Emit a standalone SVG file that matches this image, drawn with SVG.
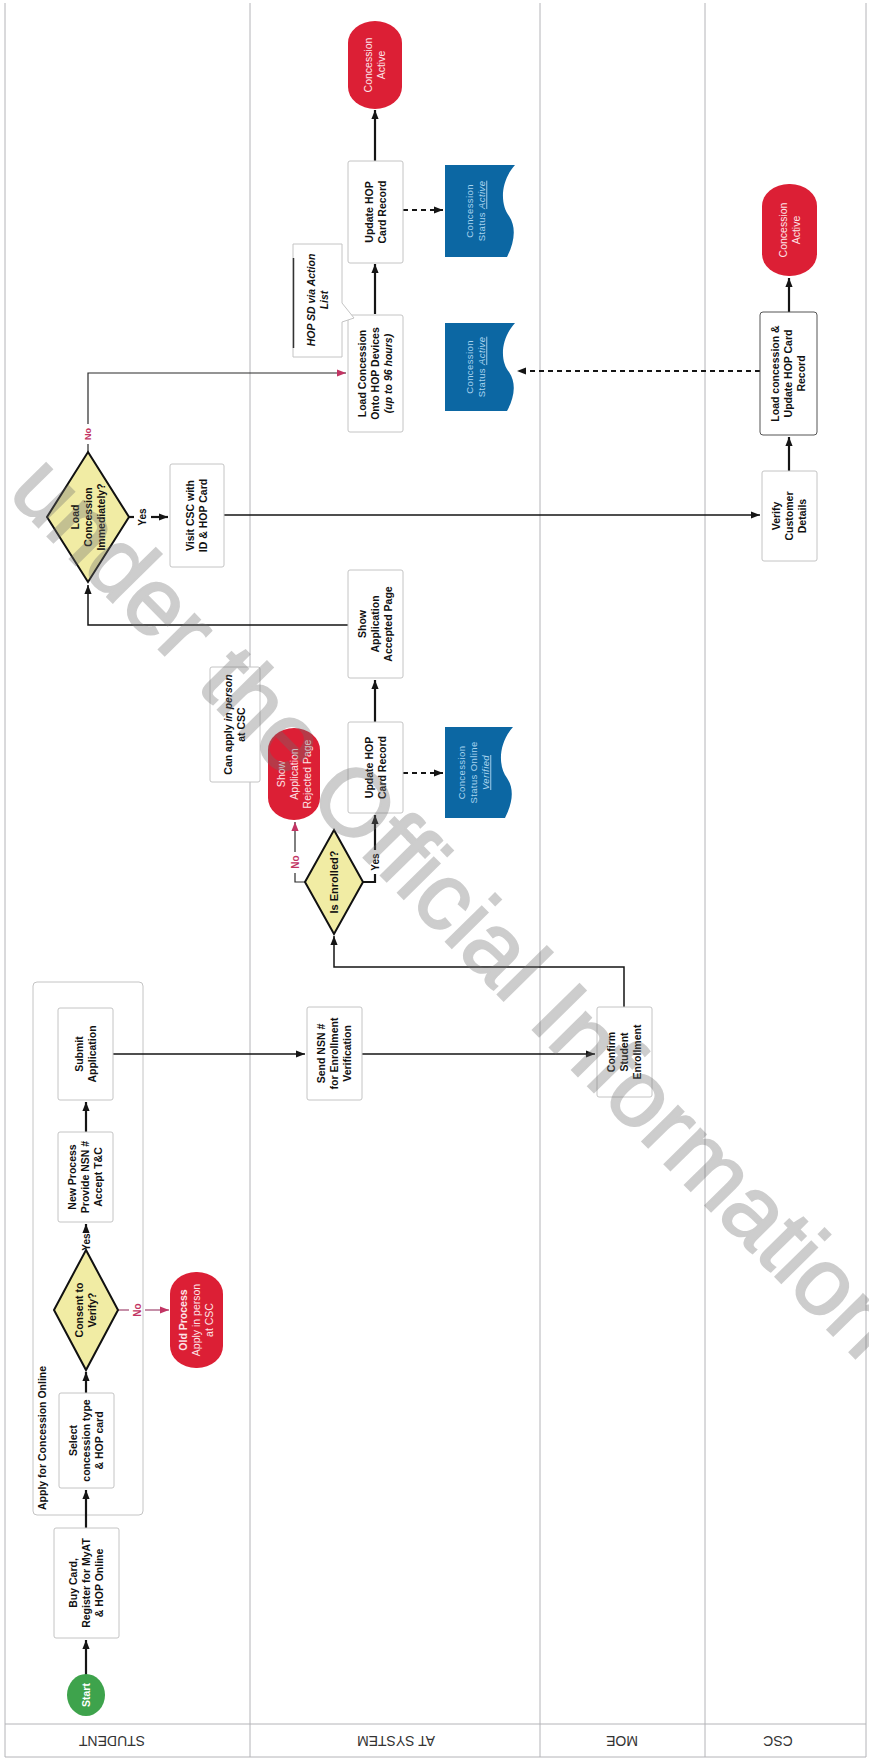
<svg xmlns="http://www.w3.org/2000/svg" width="869" height="1760" viewBox="0 0 869 1760">
<style>
.lane{stroke:#b4b4b8;stroke-width:1;fill:none}
.box{fill:#fff;stroke:#c4c4c4;stroke-width:1}
.grp{fill:none;stroke:#c4c4c4;stroke-width:1}
.red{fill:#dc1f35}
.blue{fill:#0c67a3}
.dia{fill:#f1eca4;stroke:#111;stroke-width:2}
.t{font-family:"Liberation Sans",Arial,sans-serif;font-weight:bold;font-size:10.5px;fill:#111;text-anchor:middle}
.tr{font-family:"Liberation Sans",Arial,sans-serif;font-size:10.5px;fill:#fde4e8;text-anchor:middle}
.tb{font-family:"Liberation Sans",Arial,sans-serif;font-size:9.5px;fill:#a9d4ef;text-anchor:middle;letter-spacing:0.4px}
.lbl{font-family:"Liberation Sans",Arial,sans-serif;font-size:14px;fill:#333;text-anchor:middle}
.yes{font-family:"Liberation Sans",Arial,sans-serif;font-weight:bold;font-size:10px;fill:#111;text-anchor:middle}
.no{font-family:"Liberation Sans",Arial,sans-serif;font-weight:bold;font-size:10px;fill:#c23463;text-anchor:middle}
.c{stroke:#151515;stroke-width:1.5;fill:none}
.ck{stroke:#151515;stroke-width:2.2;fill:none}
.cn{stroke:#2a2a2a;stroke-width:1.2;fill:none}
.cp{stroke:#a8547a;stroke-width:1.3;fill:none}
.cd{stroke:#151515;stroke-width:1.8;fill:none;stroke-dasharray:5 4}
.wm{font-family:"Liberation Sans",Arial,sans-serif;font-size:95px;fill:#6e6e6e;stroke:#6e6e6e;stroke-width:2;opacity:0.34}
</style>
<defs>
<marker id="ah" viewBox="0 0 10 10" refX="10" refY="5" markerWidth="9" markerHeight="9" markerUnits="userSpaceOnUse" orient="auto"><path d="M0,1 L10,5 L0,9 z" fill="#151515"/></marker>
<marker id="ahp" viewBox="0 0 10 10" refX="10" refY="5" markerWidth="9" markerHeight="9" markerUnits="userSpaceOnUse" orient="auto"><path d="M0,1 L10,5 L0,9 z" fill="#c23463"/></marker>
</defs>
<rect width="869" height="1760" fill="#fff"/>

<g id="lanes">
<line class="lane" x1="5" y1="3" x2="5" y2="1757"/>
<line class="lane" x1="250" y1="3" x2="250" y2="1757"/>
<line class="lane" x1="540" y1="3" x2="540" y2="1757"/>
<line class="lane" x1="705" y1="3" x2="705" y2="1757"/>
<line class="lane" x1="866" y1="3" x2="866" y2="1757"/>
<line class="lane" x1="5" y1="1724" x2="866" y2="1724"/>
<line class="lane" x1="5" y1="1757" x2="866" y2="1757"/>
<text class="lbl" transform="translate(112 1741) rotate(180)" dy="5">STUDENT</text>
<text class="lbl" transform="translate(396 1741) rotate(180)" dy="5">AT SYSTEM</text>
<text class="lbl" transform="translate(622 1741) rotate(180)" dy="5">MOE</text>
<text class="lbl" transform="translate(778 1741) rotate(180)" dy="5">CSC</text>
</g>

<g id="group-apply">
<rect class="grp" x="33" y="982" width="110" height="533" rx="4"/>
<text class="t" style="text-anchor:start" transform="translate(46 1510) rotate(-90)">Apply for Concession Online</text>
</g>

<g id="connectors">
<path class="ck" d="M86,1675 V1640" marker-end="url(#ah)"/>
<path class="ck" d="M86,1528 V1490" marker-end="url(#ah)"/>
<path class="ck" d="M86,1393 V1372" marker-end="url(#ah)"/>
<path class="ck" d="M86,1233 V1224" marker-end="url(#ah)"/>
<path class="cp" d="M118,1310 H129"/>
<path class="cp" d="M145,1310 H169" marker-end="url(#ahp)"/>
<path class="ck" d="M86,1132 V1102" marker-end="url(#ah)"/>
<path class="c" d="M113,1054 H305" marker-end="url(#ah)"/>
<path class="c" d="M362,1054 H595" marker-end="url(#ah)"/>
<path class="c" d="M624,1007 V967 H334 V936" marker-end="url(#ah)"/>
<path class="cn" d="M305,882 H295 V873"/>
<path class="cn" d="M295,852 V822" marker-end="url(#ahp)"/>
<path class="ck" d="M363,882 H375 V874"/>
<path class="ck" d="M375,850 V815" marker-end="url(#ah)"/>
<path class="cd" d="M403,773 H443" marker-end="url(#ah)"/>
<path class="ck" d="M375,722 V680" marker-end="url(#ah)"/>
<path class="c" d="M348,625 H88 V585" marker-end="url(#ah)"/>
<path class="ck" d="M129,517 H134"/>
<path class="ck" d="M151,517 H168" marker-end="url(#ah)"/>
<path class="cn" d="M88,452 V444"/>
<path class="cn" d="M88,424 V373 H346" marker-end="url(#ahp)"/>
<path class="c" d="M223,515 H760" marker-end="url(#ah)"/>
<path class="ck" d="M789,471 V437" marker-end="url(#ah)"/>
<path class="ck" d="M789,312 V278" marker-end="url(#ah)"/>
<path class="cd" d="M760,371 H517" marker-end="url(#ah)"/>
<path class="ck" d="M375,314 V264" marker-end="url(#ah)"/>
<path class="ck" d="M375,161 V110" marker-end="url(#ah)"/>
<path class="cd" d="M403,210 H443" marker-end="url(#ah)"/>
<text class="yes" transform="translate(86 1242) rotate(-90)" dy="3.5">Yes</text>
<text class="no" transform="translate(137 1310) rotate(-90)" dy="3.5">No</text>
<text class="no" transform="translate(295 862) rotate(-90)" dy="3.5">No</text>
<text class="yes" transform="translate(375 862) rotate(-90)" dy="3.5">Yes</text>
<text class="yes" transform="translate(142 517) rotate(-90)" dy="3.5">Yes</text>
<text class="no" style="font-size:9px" transform="translate(88 434) rotate(-90)" dy="3">No</text>
</g>

<g id="start">
<ellipse cx="86" cy="1695" rx="19" ry="21" fill="#3ea34c"/>
<text class="t" style="fill:#fff" transform="translate(86 1695) rotate(-90)" dy="3.7">Start</text>
</g>

<g id="buy-card">
<rect class="box" x="54" y="1528" width="65" height="110" rx="2"/>
<text class="t" transform="translate(86.5 1583) rotate(-90)"><tspan x="0" y="-9.3">Buy Card,</tspan><tspan x="0" y="3.7">Register for MyAT</tspan><tspan x="0" y="16.7">&amp; HOP Online</tspan></text>
</g>

<g id="select-concession">
<rect class="box" x="59" y="1393" width="55" height="95" rx="2"/>
<text class="t" transform="translate(86.5 1440.5) rotate(-90)"><tspan x="0" y="-9.3">Select</tspan><tspan x="0" y="3.7">concession type</tspan><tspan x="0" y="16.7">&amp; HOP card</tspan></text>
</g>

<g id="consent">
<polygon class="dia" points="86,1250 118,1310 86,1370 54,1310"/>
<text class="t" transform="translate(86 1310) rotate(-90)"><tspan x="0" y="-2.8">Consent to</tspan><tspan x="0" y="10.2">Verify?</tspan></text>
</g>

<g id="old-process">
<rect class="red" x="170" y="1272" width="53" height="96" rx="26" ry="22"/>
<text class="tr" transform="translate(196.5 1320) rotate(-90)"><tspan x="0" y="-9.3" font-weight="bold">Old Process</tspan><tspan x="0" y="3.7">Apply in person</tspan><tspan x="0" y="16.7">at CSC</tspan></text>
</g>

<g id="new-process">
<rect class="box" x="58" y="1132" width="55" height="90" rx="2"/>
<text class="t" transform="translate(85.5 1177) rotate(-90)"><tspan x="0" y="-9.3">New Process</tspan><tspan x="0" y="3.7">Provide NSN #</tspan><tspan x="0" y="16.7">Accept T&amp;C</tspan></text>
</g>

<g id="submit">
<rect class="box" x="58" y="1008" width="55" height="92" rx="2"/>
<text class="t" transform="translate(85.5 1054) rotate(-90)"><tspan x="0" y="-2.8">Submit</tspan><tspan x="0" y="10.2">Application</tspan></text>
</g>

<g id="send-nsn">
<rect class="box" x="307" y="1007" width="55" height="93" rx="2"/>
<text class="t" transform="translate(334.5 1053.5) rotate(-90)"><tspan x="0" y="-9.3">Send NSN #</tspan><tspan x="0" y="3.7">for Enrollment</tspan><tspan x="0" y="16.7">Verification</tspan></text>
</g>

<g id="confirm">
<rect class="box" x="597" y="1007" width="55" height="90" rx="2"/>
<text class="t" transform="translate(624.5 1052) rotate(-90)"><tspan x="0" y="-9.3">Confirm</tspan><tspan x="0" y="3.7">Student</tspan><tspan x="0" y="16.7">Enrollment</tspan></text>
</g>

<g id="is-enrolled">
<polygon class="dia" points="334,830 363,882 334,934 305,882"/>
<text class="t" style="font-size:11px" transform="translate(334 882) rotate(-90)" dy="3.8">Is Enrolled?</text>
</g>

<g id="rejected">
<rect class="red" x="268" y="728" width="52" height="92" rx="26" ry="22"/>
<text class="tr" transform="translate(294 774) rotate(-90)"><tspan x="0" y="-9.3">Show</tspan><tspan x="0" y="3.7">Application</tspan><tspan x="0" y="16.7">Rejected Page</tspan></text>
</g>

<g id="can-apply-note">
<rect class="box" x="210" y="667" width="50" height="115" rx="2"/>
<text class="t" transform="translate(235 724.5) rotate(-90)"><tspan x="0" y="-2.8">Can apply <tspan font-style="italic">in person</tspan></tspan><tspan x="0" y="10.2">at CSC</tspan></text>
</g>

<g id="update-hop-1">
<rect class="box" x="348" y="722" width="55" height="91" rx="2"/>
<text class="t" transform="translate(375.5 767.5) rotate(-90)"><tspan x="0" y="-2.8">Update HOP</tspan><tspan x="0" y="10.2">Card Record</tspan></text>
</g>

<g id="status-verified">
<path class="blue" d="M445,727 H513 C497,745 499,768 507,778 C515,790 512,804 505,818 H445 Z"/>
<text class="tb" transform="translate(474 772.5) rotate(-90)"><tspan x="0" y="-8.7">Concession</tspan><tspan x="0" y="3.3">Status Online</tspan><tspan x="0" y="15.3" font-style="italic" text-decoration="underline">Verified</tspan></text>
</g>

<g id="show-accepted">
<rect class="box" x="348" y="570" width="55" height="108" rx="2"/>
<text class="t" transform="translate(375.5 624) rotate(-90)"><tspan x="0" y="-9.3">Show</tspan><tspan x="0" y="3.7">Application</tspan><tspan x="0" y="16.7">Accepted Page</tspan></text>
</g>

<g id="load-decision">
<polygon class="dia" points="88,452 129,517 88,582 47,517"/>
<text class="t" transform="translate(88 517) rotate(-90)"><tspan x="0" y="-9.3">Load</tspan><tspan x="0" y="3.7">Concession</tspan><tspan x="0" y="16.7">Immediately?</tspan></text>
</g>

<g id="visit-csc">
<rect class="box" x="170" y="464" width="54" height="103" rx="2"/>
<text class="t" transform="translate(197 515.5) rotate(-90)"><tspan x="0" y="-2.8">Visit CSC with</tspan><tspan x="0" y="10.2">ID &amp; HOP Card</tspan></text>
</g>

<g id="load-hop-devices">
<rect class="box" x="348" y="315" width="55" height="117" rx="2"/>
<text class="t" transform="translate(375.5 373.5) rotate(-90)"><tspan x="0" y="-9.3">Load Concession</tspan><tspan x="0" y="3.7">Onto HOP Devices</tspan><tspan x="0" y="16.7" font-style="italic">(up to 96 hours)</tspan></text>
</g>

<g id="hop-sd-note">
<path class="box" d="M293,244 H342 V303 L354,318 L342,322 V357 H293 Z"/>
<line x1="293.5" y1="258" x2="293.5" y2="348" stroke="#333" stroke-width="1.5"/>
<text class="t" style="font-style:italic" transform="translate(318 300) rotate(-90)"><tspan x="0" y="-2.8">HOP SD via Action</tspan><tspan x="0" y="10.2">List</tspan></text>
</g>

<g id="update-hop-2">
<rect class="box" x="348" y="161" width="55" height="102" rx="2"/>
<text class="t" transform="translate(375.5 212) rotate(-90)"><tspan x="0" y="-2.8">Update HOP</tspan><tspan x="0" y="10.2">Card Record</tspan></text>
</g>

<g id="active-1">
<rect class="red" x="348" y="21" width="54" height="88" rx="27" ry="22"/>
<text class="tr" transform="translate(375 65) rotate(-90)"><tspan x="0" y="-2.8">Concession</tspan><tspan x="0" y="10.2">Active</tspan></text>
</g>

<g id="status-active-1">
<path class="blue" d="M445,165 H515 C499,183 501,206 509,216 C517,228 514,243 507,257 H445 Z"/>
<text class="tb" transform="translate(476 211) rotate(-90)"><tspan x="0" y="-2.7">Concession</tspan><tspan x="0" y="9.3">Status <tspan font-style="italic" text-decoration="underline">Active</tspan></tspan></text>
</g>

<g id="status-active-2">
<path class="blue" d="M445,323 H515 C499,341 501,363 509,372 C517,384 514,398 507,411 H445 Z"/>
<text class="tb" transform="translate(476 367) rotate(-90)"><tspan x="0" y="-2.7">Concession</tspan><tspan x="0" y="9.3">Status <tspan font-style="italic" text-decoration="underline">Active</tspan></tspan></text>
</g>

<g id="active-csc">
<rect class="red" x="762" y="184" width="55" height="92" rx="27" ry="22"/>
<text class="tr" transform="translate(789.5 230) rotate(-90)"><tspan x="0" y="-2.8">Concession</tspan><tspan x="0" y="10.2">Active</tspan></text>
</g>

<g id="load-csc">
<rect class="box" x="760" y="312" width="57" height="123" rx="3" style="stroke:#555"/>
<text class="t" transform="translate(788.5 373.5) rotate(-90)"><tspan x="0" y="-9.3">Load concession &amp;</tspan><tspan x="0" y="3.7">Update HOP Card</tspan><tspan x="0" y="16.7">Record</tspan></text>
</g>

<g id="verify">
<rect class="box" x="762" y="471" width="55" height="90" rx="2"/>
<text class="t" transform="translate(789.5 516) rotate(-90)"><tspan x="0" y="-9.3">Verify</tspan><tspan x="0" y="3.7">Customer</tspan><tspan x="0" y="16.7">Details</tspan></text>
</g>

<text class="wm" transform="translate(6 494) rotate(45.5)">under the Official Information</text>
</svg>
